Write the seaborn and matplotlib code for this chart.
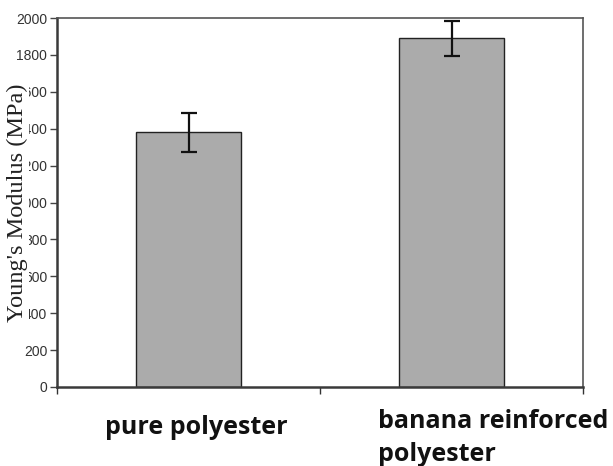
import matplotlib
matplotlib.use("Agg")
import matplotlib.pyplot as plt
import matplotlib.transforms as mtransforms
import seaborn as sns
import pandas as pd

categories = ["pure polyester", "banana reinforced\npolyester"]
modulus = [1380, 1890]
errors = [107, 95]
yticks = [0, 200, 400, 600, 800, 1000, 1200, 1400, 1600, 1800, 2000]

sns.set_theme(style="white")
plt.rcParams["font.family"] = ["Liberation Sans", "DejaVu Sans"]

df = pd.DataFrame({"material": categories, "modulus": modulus})

fig = plt.figure(figsize=(6.13, 4.66), dpi=100)
ax = fig.add_axes([57 / 613, 1 - 387 / 466, 526 / 613, 369 / 466])

sns.barplot(data=df, x="material", y="modulus", ax=ax, color="#ababab",
            saturation=1, width=0.4, edgecolor="#222222", linewidth=1.0,
            errorbar=None)
ax.errorbar(range(len(categories)), modulus, yerr=errors, fmt="none",
            ecolor="#111111", elinewidth=1.6, capsize=6, capthick=1.6, zorder=5)

ax.set_xlim(-0.5, 1.5)
ax.set_ylim(0, 2000)
ax.set_yticks(yticks)
ax.set_yticklabels([str(v) for v in yticks], fontsize=10, color="#333333")
ax.tick_params(axis="y", direction="out", length=5, width=1, color="#444444",
               pad=2, left=True)

# category labels
ax.set_xticks([0, 1])
ax.set_xticklabels(categories, fontsize=18, fontweight="bold",
                   family=["Open Sans", "DejaVu Sans"], color="#111111")
ax.tick_params(axis="x", which="major", length=0, pad=20)
ax.set_xticks([-0.5, 0.5, 1.5], minor=True)
ax.tick_params(axis="x", which="minor", direction="out", length=5, width=1,
               color="#333333", bottom=True)
labs = ax.get_xticklabels()
labs[1].set_horizontalalignment("left")
labs[1].set_multialignment("left")
labs[1].set_linespacing(1.42)
labs[1].set_transform(labs[1].get_transform() +
                      mtransforms.ScaledTranslation(-74 / 100, 6 / 100, fig.dpi_scale_trans))
labs[0].set_transform(labs[0].get_transform() +
                      mtransforms.ScaledTranslation(8 / 100, 0, fig.dpi_scale_trans))

ax.set_xlabel("")
ax.set_ylabel("Young's Modulus (MPa)", family=["Liberation Serif", "DejaVu Serif"],
              fontsize=17.5, color="#222222",
              bbox=dict(facecolor="white", edgecolor="none", pad=0.5))
ax.yaxis.set_label_coords((28 - 57) / 526, 0.5)
ax.yaxis.label.set_zorder(10)

for side in ["left", "bottom"]:
    ax.spines[side].set_color("#3a3a3a")
    ax.spines[side].set_linewidth(1.8)
for side in ["top", "right"]:
    ax.spines[side].set_color("#555555")
    ax.spines[side].set_linewidth(1.2)
    ax.spines[side].set_visible(True)

fig.savefig("out.png", dpi=100, facecolor="white")
